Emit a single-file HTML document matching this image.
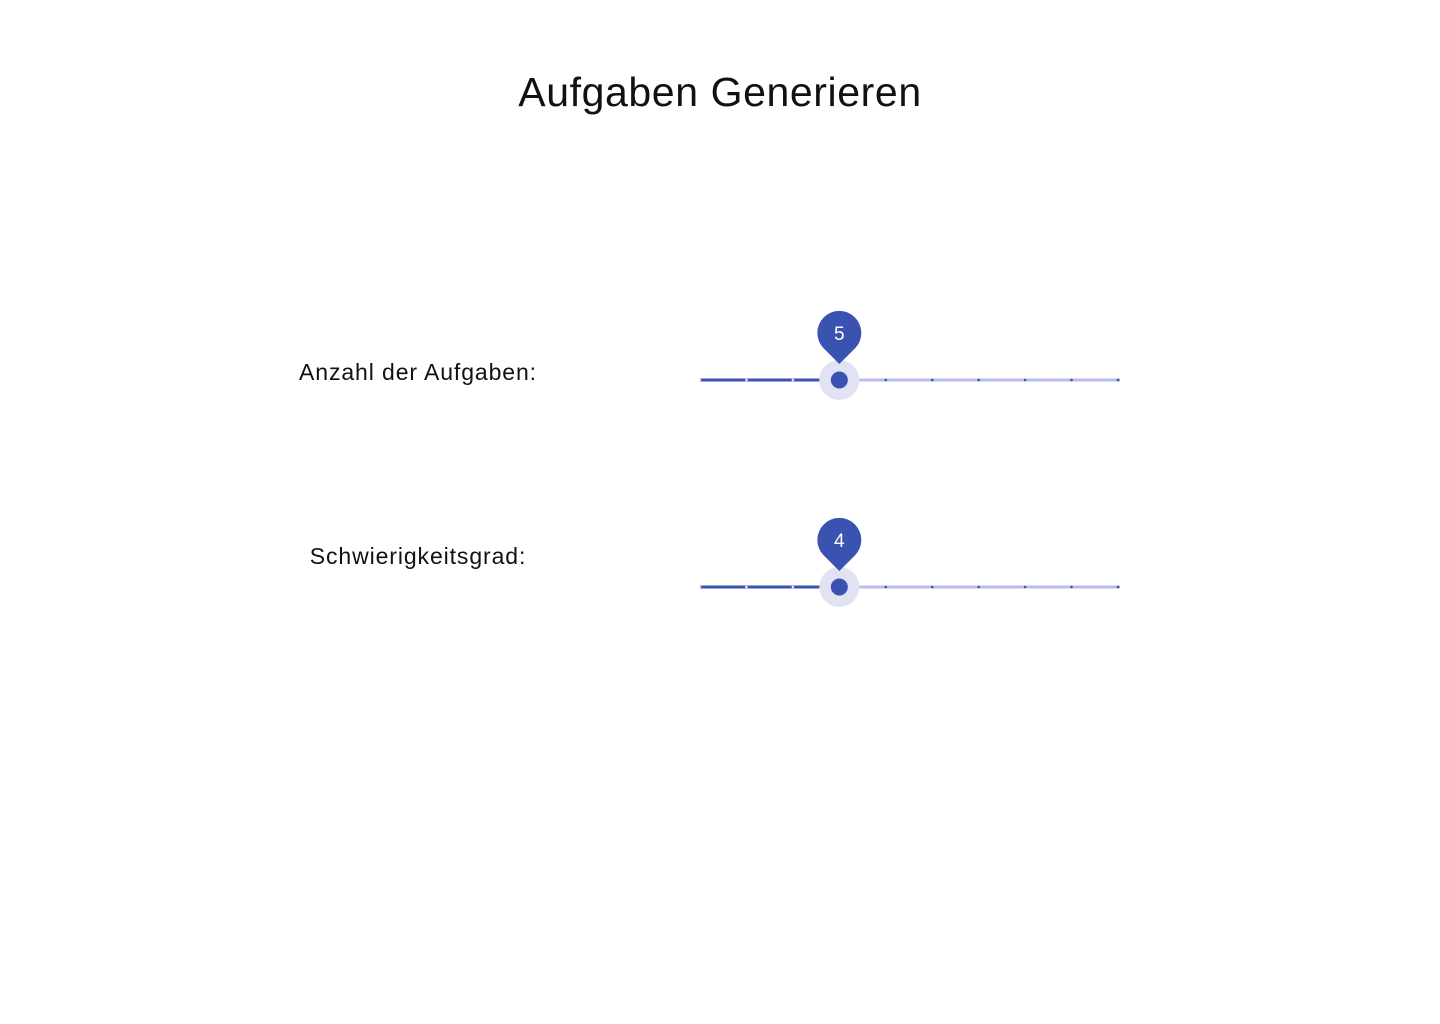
<!DOCTYPE html>
<html><head><meta charset="utf-8">
<style>
html,body{margin:0;padding:0;background:#fff;width:1440px;height:1024px;overflow:hidden;font-family:"Liberation Sans",sans-serif;}
.title{position:absolute;left:0;width:1440px;top:69px;text-align:center;font-size:41px;letter-spacing:0.6px;color:#111;}
.label{position:absolute;width:400px;left:218px;text-align:center;font-size:23px;letter-spacing:0.9px;color:#111;}
svg{position:absolute;left:0;top:0;}
</style></head>
<body>
<div class="title">Aufgaben Generieren</div>
<div class="label" style="top:359px">Anzahl der Aufgaben:</div>
<div class="label" style="top:543px">Schwierigkeitsgrad:</div>
<svg id="s" width="1440" height="1024"></svg>
<script>
const sliderNames = ['task-count-slider','difficulty-slider'];
const sliderValues = [5, 4];
const sliderMins = [2, 1];
const sliderMaxs = [11, 10];
const sliderYs = [380, 587];
const X0 = 700, X1 = 1118;
const NS = 'http://www.w3.org/2000/svg';
const svg = document.getElementById('s');
function mk(tag, attrs, parent){const e=document.createElementNS(NS,tag);for(const k in attrs)e.setAttribute(k,attrs[k]);(parent||svg).appendChild(e);return e;}
sliderValues.forEach((v,i)=>{
  const mn=sliderMins[i], mx=sliderMaxs[i], y=sliderYs[i];
  const sx=val=>X0+(val-mn)/(mx-mn)*(X1-X0);
  const g=mk('g',{});
  
  
  const tx=sx(v);
  const rail=mk('line',{x1:X0,x2:X1+2,y1:y,y2:y,stroke:'#b9bde8','stroke-width':3},g);
  
  
  const tr=mk('line',{x1:X0,x2:tx,y1:y,y2:y,stroke:'#3a53b0','stroke-width':3},g);
  
  
  for(let k=mn;k<=mx;k++){
    const x=sx(k);
    const m=mk('circle',{cx:x,cy:y,r:1.3,fill:k<v?'#dfe3f5':'#3a53b0'},g);
    
    
  }
  const halo=mk('circle',{cx:tx,cy:y,r:20,fill:'#e1e3f3'},g);
  
  
  const th=mk('circle',{cx:tx,cy:y,r:8.5,fill:'#3a53b0'},g);
  
  
  const ly=y-47;
  const pin=mk('path',{d:`M${tx} ${ly+31} L${tx-16} ${ly+15} A22 22 0 1 1 ${tx+16} ${ly+15} Z`,fill:'#3a53b0'},g);
  
  
  const t=mk('text',{x:tx,y:ly+7,'text-anchor':'middle','font-size':19,fill:'#fff','font-family':'Liberation Sans, sans-serif'},g);
  t.textContent=v;
  
  
});
</script>
</body></html>
